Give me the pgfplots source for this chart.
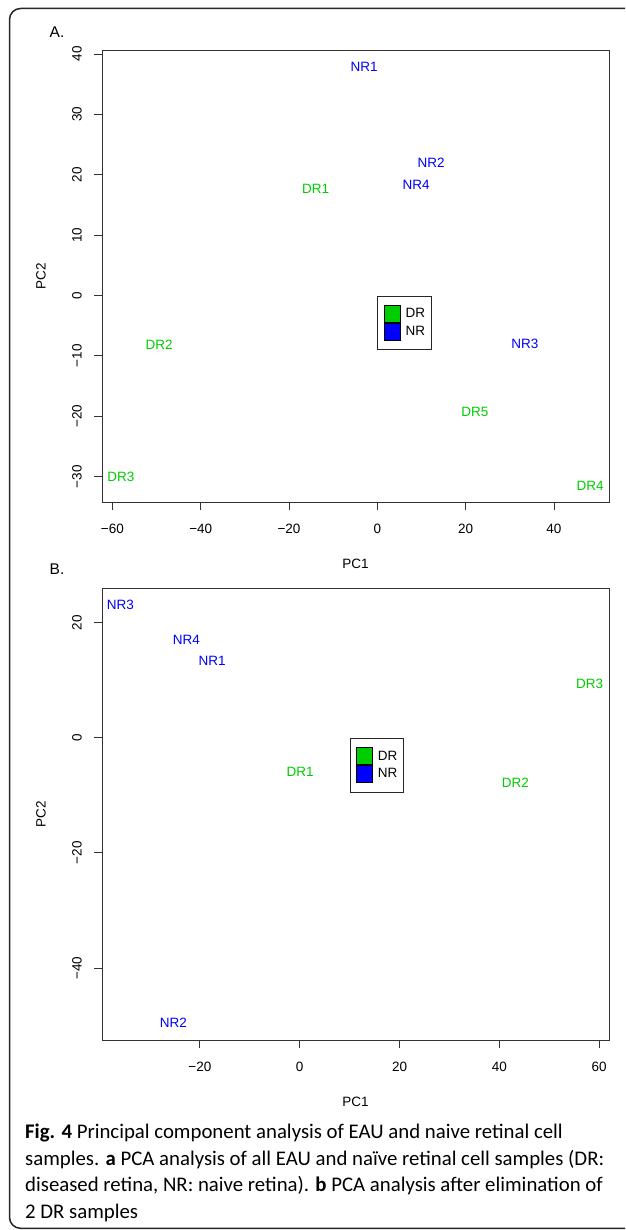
\documentclass[border=0pt]{standalone}
\usepackage{fontspec}
\setmainfont{Liberation Sans}
\newfontfamily\capfont{Carlito}
\usepackage{pgfplots}
\pgfplotsset{compat=1.18}
\definecolor{grnR}{RGB}{0,205,0}
\definecolor{bluR}{RGB}{0,0,255}
\newcommand{\rfont}{\fontsize{13.5}{16}\selectfont}
\pgfplotsset{
  pcastyle/.style={
    scale only axis, width=507pt, height=452pt,
    axis line style={black!80, line width=0.9pt},
    every tick/.style={black!80, line width=0.9pt},
    tick align=outside, major tick length=8pt,
    tick pos=left,
    font=\rfont,
    ticklabel style={font=\rfont, inner sep=0pt},
    xticklabel style={anchor=north},
    xticklabel shift=14pt,
    yticklabel style={rotate=90, anchor=south},
    yticklabel shift=12pt,
    xlabel={PC1}, ylabel={PC2},
    xlabel style={at={(axis description cs:0.5,0)}, anchor=center, yshift=-62pt},
    ylabel style={at={(axis description cs:0,0.5)}, anchor=center, yshift=61pt},
    legend style={anchor=north west, draw=black!85, line width=0.9pt,
      inner xsep=6pt, inner ysep=9pt, row sep=0pt, column sep=5pt,
      nodes={inner sep=0pt}, font=\rfont},
    legend cell align=left,
    legend image code/.code={\fill[##1] (0pt,-8.5pt) rectangle (16pt,8.5pt);},
  },
  lbl/.style={only marks, mark=none, forget plot, nodes near coords,
    point meta=explicit symbolic,
    nodes near coords style={anchor=center, text=#1, font=\rfont, inner sep=0pt}},
}
\begin{document}
\begin{tikzpicture}
\useasboundingbox (0pt,0pt) rectangle (625pt,-1230pt);
\begin{scope}
\clip (0pt,0pt) rectangle (625pt,-1230pt);
\draw[rounded corners=11pt, line width=1.5pt, black!85] (9.5pt,-8.5pt) rectangle (680pt,-1228.3pt);
\end{scope}
\node[font=\fontsize{15.5}{18}\selectfont] at (57pt,-32pt) {A.};
\node[font=\fontsize{15.5}{18}\selectfont] at (57pt,-569pt) {B.};

% Panel A
\begin{axis}[pcastyle, at={(102pt,-50pt)}, anchor=north west,
  xmin=-62.36, xmax=52.46, ymin=-34.2, ymax=40.66,
  xtick={-60,-40,-20,0,20,40}, xticklabels={−60,−40,−20,0,20,40},
  ytick={-30,-20,-10,0,10,20,30,40}, yticklabels={−30,−20,−10,0,10,20,30,40},
  legend style={at={(axis cs:0,0)}}]
\addplot[lbl=grnR] table[meta=lab]{
x y lab
-14.0 17.7 DR1
-49.4 -8.1 DR2
-58.1 -30.0 DR3
48.2 -31.6 DR4
22.1 -19.35 DR5
};
\addplot[lbl=bluR] table[meta=lab]{
x y lab
-3.0 37.8 NR1
12.2 22.05 NR2
33.4 -8.0 NR3
8.8 18.3 NR4
};
\addlegendimage{fill=grnR}\addlegendentry{DR}
\addlegendimage{fill=bluR}\addlegendentry{NR}
\end{axis}

% Panel B
\begin{axis}[pcastyle, at={(102pt,-588pt)}, anchor=north west,
  xmin=-39.6, xmax=61.96, ymin=-52.5, ymax=26.0,
  xtick={-20,0,20,40,60}, xticklabels={−20,0,20,40,60},
  ytick={-40,-20,0,20}, yticklabels={−40,−20,0,20},
  legend style={at={(axis cs:10,0)}}]
\addplot[lbl=grnR] table[meta=lab]{
x y lab
0.08 -5.95 DR1
43.2 -7.9 DR2
58.1 9.3 DR3
};
\addplot[lbl=bluR] table[meta=lab]{
x y lab
-17.55 13.4 NR1
-25.3 -49.5 NR2
-35.9 23.1 NR3
-22.7 17.05 NR4
};
\addlegendimage{fill=grnR}\addlegendentry{DR}
\addlegendimage{fill=bluR}\addlegendentry{NR}
\end{axis}

% Caption
\begin{scope}[every node/.style={anchor=base west, inner sep=0pt, font=\capfont\fontsize{20.8}{26.5}\selectfont}]
\node at (25pt,-1138.7pt) {\textbf{Fig. 4} Principal component analysis of EAU and naive retinal cell};
\node at (25pt,-1165.2pt) {samples. \textbf{a} PCA analysis of all EAU and naïve retinal cell samples (DR:};
\node at (25pt,-1191.7pt) {diseased retina, NR: naive retina). \textbf{b} PCA analysis after elimination of};
\node at (25pt,-1218.2pt) {2 DR samples};
\end{scope}
\end{tikzpicture}
\end{document}
